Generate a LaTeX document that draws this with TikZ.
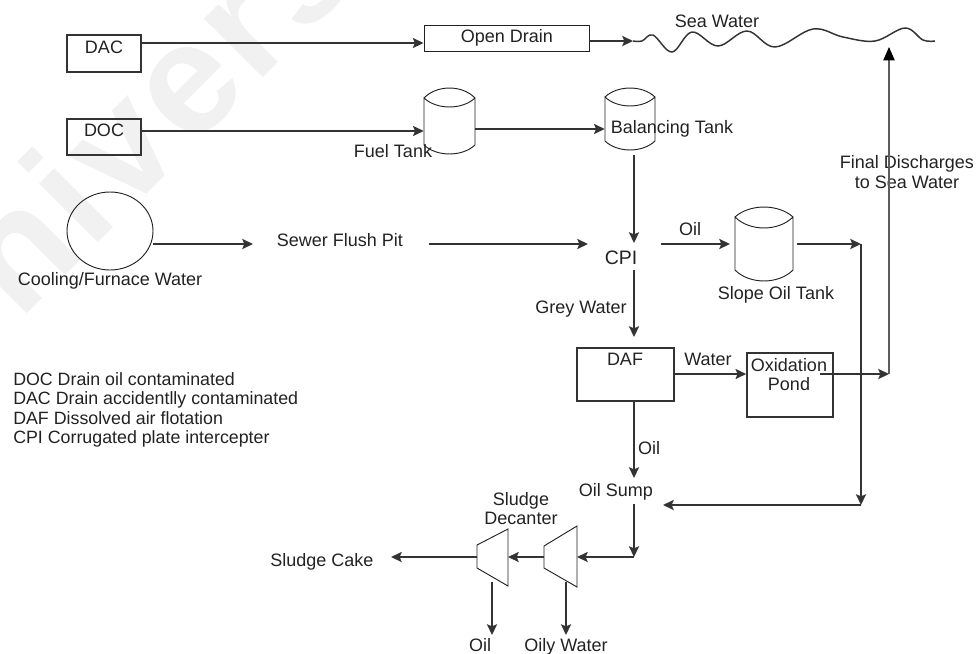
\documentclass[tikz,border=0pt]{standalone}
\usepackage{fontspec}
\setmainfont{Liberation Sans}
\usetikzlibrary{arrows.meta,shapes.geometric}
\definecolor{ink}{HTML}{333333}
\definecolor{txt}{HTML}{222222}
\tikzset{
  flow/.style={draw=ink,line width=1.3pt,-{Stealth[length=8pt,width=7.5pt,inset=1.5pt]}},
  thinflow/.style={draw=ink!80,line width=0.9pt,-{Stealth[length=10pt,width=8.5pt,inset=0pt,color=black]}},
  lab2/.style={font=\fontsize{13.5}{14.6}\selectfont,text=txt,inner sep=0pt,align=center},
  lab/.style={lab2,text height=9.7pt,text depth=0pt},
  leg/.style={font=\fontsize{13.35}{15}\selectfont,text=txt,inner sep=0pt,anchor=west,text height=9.6pt,text depth=0pt},
  heavybox/.style={draw=ink,line width=1.2pt,inner sep=0pt},
  lightbox/.style={draw=txt,line width=0.7pt,inner sep=0pt},
  equip/.style={draw=txt,line width=0.7pt}
}
% name, x1,y1,x2,y2, style
\newcommand{\bx}[6]{\node[#6,minimum width={(#4-#2)*0.75pt},minimum height={(#5-#3)*0.75pt}] (#1) at ({(#2+#4)/2},{(#3+#5)/2}) {};}
% name, x1, x2, ytop, ysidetop, yarc, ysidebot, ybot
\newcommand{\tank}[8]{%
  \node[inner sep=0pt,minimum width={(#3-#2)*0.75pt},minimum height={(#8-#4)*0.75pt}] (#1) at ({(#2+#3)/2},{(#4+#8)/2}) {};
  \draw[equip] (#2,#5) .. controls ({#2+(#3-#2)*0.25},{#5-1.33*(#5-#4)}) and ({#3-(#3-#2)*0.25},{#5-1.33*(#5-#4)}) .. (#3,#5)
     .. controls ({#3-(#3-#2)*0.25},{#5+1.33*(#6-#5)}) and ({#2+(#3-#2)*0.25},{#5+1.33*(#6-#5)}) .. (#2,#5) -- (#2,#7)
     .. controls ({#2+(#3-#2)*0.25},{#7+1.33*(#8-#7)}) and ({#3-(#3-#2)*0.25},{#7+1.33*(#8-#7)}) .. (#3,#7) -- (#3,#5);
}
\begin{document}
\begin{tikzpicture}[x=0.75pt,y=-0.75pt]
\useasboundingbox (0,0) rectangle (976,654);
\clip (0,0) rectangle (976,654);
% watermark
\node[font=\bfseries\fontsize{118}{126}\selectfont\addfontfeature{LetterSpace=3},text=black!5.5,rotate=45,inner sep=0pt,anchor=base] (wm) at (192,149) {nivers};
% levels
\coordinate (r1) at (0,43);
\coordinate (r1b) at (0,41);
\coordinate (r2) at (0,131);
\coordinate (r2b) at (0,129);
\coordinate (r3) at (0,244);
\coordinate (r4) at (0,374);
\coordinate (c1) at (634,0);
% boxes
\bx{dac}{67}{35}{141}{72}{heavybox}
\bx{doc}{67}{119}{141}{155}{heavybox}
\bx{drain}{424}{25}{589}{51}{lightbox}
\bx{daf}{577}{348}{674}{401}{heavybox}
\bx{pond}{747}{353}{833}{417}{heavybox}
\node[ellipse,equip,inner sep=0pt,minimum width=64.5pt,minimum height=58.5pt] (cool) at (110,231) {};
\tank{fuel}{424}{475}{88}{98}{107}{145}{154}
\tank{bal}{605}{655}{88}{97}{106}{141}{150}
\tank{slope}{735}{793}{207}{217}{228}{270}{281}
% decanters
\coordinate (d2in) at (577,557);
\coordinate (d2out) at (544,557);
\coordinate (d1in) at (508,557);
\coordinate (d1out) at (477,557);
\draw[equip] (544,546) -- (577,526) -- (577,587) -- (544,568) -- cycle;
\draw[equip] (477,545) -- (508,529) -- (508,586) -- (477,568) -- cycle;
% sea
\coordinate (seaIn) at (633,41);
\coordinate (seaTip) at (889,47);
\draw[draw=ink,line width=1.1pt] plot[smooth,tension=0.6] coordinates {(633,41) (642,41) (653,35) (672,52) (692,32) (718,46) (747,31) (775,47) (813,29) (843,37) (875,41) (905,28) (923,40) (935,41)};
% labels
\node[lab] (ldac) at (104,47) {DAC};
\node[lab] (ldoc) at (104,130) {DOC};
\node[lab] (ldrain) at (507,36) {Open Drain};
\node[lab] (lsea) at (717,21) {Sea Water};
\node[lab] (lfuel) at (393,151) {Fuel Tank};
\node[lab] (lbal) at (672,127) {Balancing Tank};
\node[lab2] (lfinal) at (907,172) {Final Discharges\\to Sea Water};
\node[lab] (lcool) at (110,279) {Cooling/Furnace Water};
\node[lab] (lsewer) at (340,240) {Sewer Flush Pit};
\node[lab,font=\fontsize{14.6}{16}\selectfont] (cpi) at (621,258) {CPI};
\node[lab] (loil1) at (690,229) {Oil};
\node[lab] (lslope) at (776,293) {Slope Oil Tank};
\node[lab] (lgrey) at (581,307) {Grey Water};
\node[lab] (ldaf) at (625,359) {DAF};
\node[lab] (lwater) at (708,359) {Water};
\node[lab2,text width=70pt] (lpond) at (789,374.5) {Oxidation\\Pond};
\node[lab] (loil2) at (649,448) {Oil};
\node[lab] (sump) at (616,490) {Oil Sump};
\node[lab2] (ldec) at (521,508.5) {Sludge\\Decanter};
\node[lab] (cake) at (322,560) {Sludge Cake};
\node[lab] (oilout) at (480,645) {Oil};
\node[lab] (oilywater) at (566,645) {Oily Water};
\node[leg] (leg1) at (13,379) {DOC Drain oil contaminated};
\node[leg] (leg2) at (13,398.5) {DAC Drain accidentlly contaminated};
\node[leg] (leg3) at (13,418) {DAF Dissolved air flotation};
\node[leg] (leg4) at (13,437.5) {CPI Corrugated plate intercepter};
% junctions
\coordinate (jn1) at (861,244);
\coordinate (jn2) at (861,505);
\coordinate (jn3) at (889,374);
\coordinate (jn4) at (634,557);
\coordinate (cpiW) at (588,244);
\coordinate (cpiE) at (661,244);
\coordinate (cpiN) at (634,243);
\coordinate (cpiS) at (634,270);
\coordinate (dafN) at (634,337);
\coordinate (sewW) at (253,244);
\coordinate (sewE) at (429,244);
\coordinate (slopeIn) at (730,244);
\coordinate (slopeOut) at (797,244);
\coordinate (balOut) at (634,155);
\coordinate (sumpIn) at (634,478);
\coordinate (sumpOut) at (634,504);
\coordinate (sumpE) at (663,505);
\coordinate (pondOut) at (820,374);
\coordinate (cakeIn) at (391,557);
\coordinate (oilTip) at (492,635);
\coordinate (oilTop) at (492,582);
\coordinate (owTip) at (566,635);
\coordinate (owTop) at (566,582);
% connectors
\draw[flow] (dac.east |- r1) -- (drain.west |- r1);
\draw[flow] (drain.east |- r1b) -- (seaIn);
\draw[flow] (doc.east |- r2) -- (fuel.west |- r2);
\draw[flow] (fuel.east |- r2b) -- (bal.west |- r2b);
\draw[flow] (cool.east |- r3) -- (sewW);
\draw[flow] (sewE) -- (cpiW);
\draw[flow] (balOut) -- (cpiN);
\draw[flow] (cpiE) -- (slopeIn);
\draw[flow] (slopeOut) -- (jn1);
\draw[flow] (cpiS) -- (dafN);
\draw[flow] (daf.east |- r4) -- (pond.west |- r4);
\draw[flow] (pondOut) -- (jn3);
\draw[thinflow] (jn3) -- (seaTip);
\draw[flow] (daf.south -| c1) -- (sumpIn);
\draw[flow] (jn1) -- (jn2);
\draw[flow] (jn2) -- (sumpE);
\draw[flow] (sumpOut) -- (jn4);
\draw[flow] (jn4) -- (d2in);
\draw[flow] (d2out) -- (d1in);
\draw[flow] (d1out) -- (cakeIn);
\draw[flow] (oilTop) -- (oilTip);
\draw[flow] (owTop) -- (owTip);
\end{tikzpicture}
\end{document}
